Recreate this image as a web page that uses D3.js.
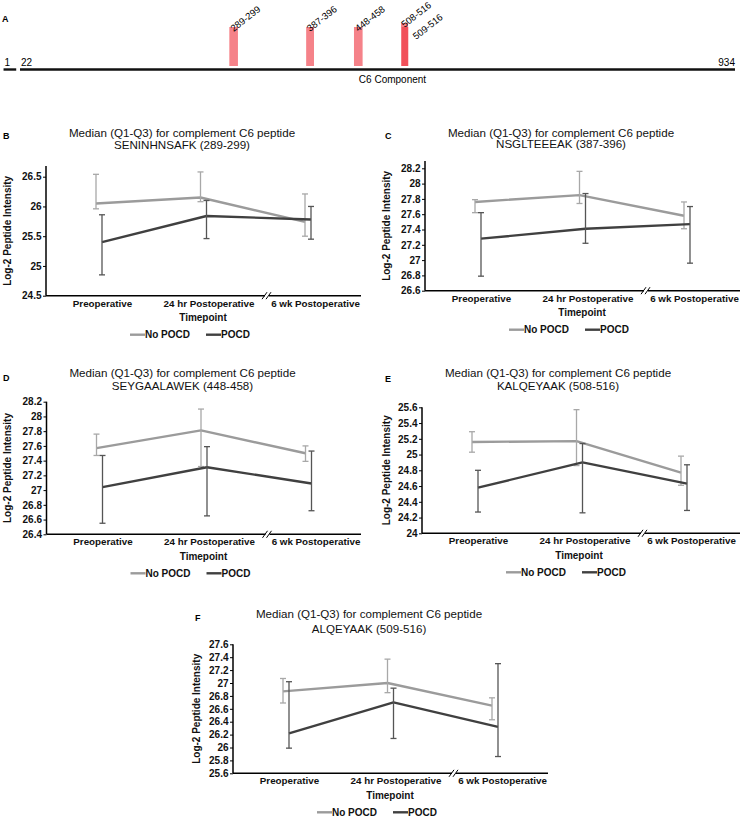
<!DOCTYPE html>
<html><head><meta charset="utf-8">
<script src="https://cdn.jsdelivr.net/npm/d3@7"></script>
<style>
body{margin:0;background:#fff}
svg{display:block;font-family:"Liberation Sans",Arial,sans-serif}
</style>
</head><body>
<svg id="c" width="741" height="820"></svg>
<script>
// ---------- Panel A data ----------
const proteinStart = 1, signalEnd = 21, chainStart = 22, chainEnd = 934;
const peptideRanges = [[289,299],[387,396],[448,458],[508,516],[509,516]];
const peptideLabels = ["289-299","387-396","448-458","508-516","509-516"];
const componentName = "C6 Component";

// ---------- Panels B-F data ----------
const timepoints = ["Preoperative","24 hr Postoperative","6 wk Postoperative"];
const seriesNames = ["No POCD","POCD"];
const titleLine1 = "Median (Q1-Q3) for complement C6 peptide";
const peptideTitles = ["SENINHNSAFK (289-299)","NSGLTEEEAK (387-396)","SEYGAALAWEK (448-458)","KALQEYAAK (508-516)","ALQEYAAK (509-516)"];
// each entry: [median, Q1, Q3] per timepoint
const B_noPOCD = [[26.05,25.96,26.54],[26.15,26.08,26.58],[25.74,25.50,26.21]];
const B_POCD   = [[25.40,24.85,25.86],[25.84,25.46,26.10],[25.78,25.45,26.00]];
const B_ticks  = [24.5,25,25.5,26,26.5];
const C_noPOCD = [[27.76,27.62,27.79],[27.85,27.74,28.16],[27.58,27.41,27.76]];
const C_POCD   = [[27.28,26.79,27.62],[27.41,27.22,27.87],[27.47,26.96,27.70]];
const C_ticks  = [26.6,26.8,27,27.2,27.4,27.6,27.8,28,28.2];
const D_noPOCD = [[27.57,27.47,27.76],[27.81,27.32,28.10],[27.50,27.39,27.60]];
const D_POCD   = [[27.04,26.55,27.47],[27.31,26.65,27.59],[27.09,26.72,27.53]];
const D_ticks  = [26.4,26.6,26.8,27,27.2,27.4,27.6,27.8,28,28.2];
const E_noPOCD = [[25.16,25.03,25.29],[25.17,24.86,25.57],[24.77,24.61,24.98]];
const E_POCD   = [[24.58,24.27,24.80],[24.90,24.26,25.14],[24.63,24.29,24.87]];
const E_ticks  = [24,24.2,24.4,24.6,24.8,25,25.2,25.4,25.6];
const F_noPOCD = [[26.87,26.69,27.07],[27.00,26.85,27.37],[26.65,26.43,26.77]];
const F_POCD   = [[26.22,25.99,27.02],[26.70,26.14,26.92],[26.32,25.86,27.30]];
const F_ticks  = [25.6,25.8,26,26.2,26.4,26.6,26.8,27,27.2,27.4,27.6];

// ---------- styles / layout ----------
const seriesColor = ["#9b9b9b","#404040"];
const errColor = ["#a8a8a8","#555555"];

const svg = d3.select("#c");

// ===== Panel A =====
(function(){
  const g = svg.append("g");
  const x = d3.scaleLinear().domain([chainStart, chainEnd]).range([20, 735]);
  const lineY = 69.5;
  g.append("text").attr("x",2).attr("y",22).attr("font-size",9).attr("font-weight","bold").text("A");
  g.append("line").attr("x1",x(proteinStart)).attr("x2",x(signalEnd)-3).attr("y1",lineY).attr("y2",lineY)
    .attr("stroke","#111").attr("stroke-width",2.4);
  g.append("line").attr("x1",x(chainStart)).attr("x2",x(chainEnd)).attr("y1",lineY).attr("y2",lineY)
    .attr("stroke","#111").attr("stroke-width",2.4);
  g.append("text").attr("x",x(proteinStart)+1).attr("y",66).attr("font-size",10).text(String(proteinStart));
  g.append("text").attr("x",x(chainStart)+1).attr("y",66).attr("font-size",10).text(String(chainStart));
  g.append("text").attr("x",x(chainEnd)).attr("y",66).attr("font-size",10).attr("text-anchor","end").text(String(chainEnd));
  g.append("text").attr("x",(x(chainStart)+x(chainEnd))/2+15).attr("y",83).attr("font-size",10)
    .attr("text-anchor","middle").text(componentName);
  peptideRanges.forEach((r,i)=>{
    const overlap = i>0 && r[0] <= peptideRanges[i-1][1];
    const nextOverlap = i<peptideRanges.length-1 && peptideRanges[i+1][0] <= r[1];
    const top = nextOverlap ? 23 : 27;
    const x0 = x(r[0]), w = Math.max(6.5, x(r[1]+1)-x(r[0]));
    g.append("rect").attr("x",x0).attr("y",top).attr("width",w).attr("height",66-top)
      .attr("fill","#ef2f3a").attr("fill-opacity",0.6);
    const lx = x0 + w/2 + (overlap ? 11 : 0), ly = top + 5 + (overlap ? 8 : 0);
    g.append("text").attr("transform",`translate(${lx},${ly}) rotate(-38)`).attr("font-size",9.5)
      .text(peptideLabels[i]);
  });
})();

// ===== Panels B-F =====
const panels = [
  {id:"B", data:[B_noPOCD,B_POCD], ticks:B_ticks, sub:peptideTitles[0], x0:46, x1:361, yB:295.7, yT:176.7, axTop:166, tY:137, tGap:12, lx:3, ly:139, yl:10.5},
  {id:"C", data:[C_noPOCD,C_POCD], ticks:C_ticks, sub:peptideTitles[1], x0:425, x1:740, yB:290.7, yT:168.3, axTop:161, tY:136.7, tGap:11.5, lx:385, ly:139, yl:389.5},
  {id:"D", data:[D_noPOCD,D_POCD], ticks:D_ticks, sub:peptideTitles[2], x0:46.5, x1:361, yB:534.3, yT:401.7, axTop:401.7, tY:377.3, tGap:12.7, lx:3, ly:381, yl:10.5},
  {id:"E", data:[E_noPOCD,E_POCD], ticks:E_ticks, sub:peptideTitles[3], x0:422, x1:740, yB:533.3, yT:407.3, axTop:407.3, tY:376.7, tGap:13.3, lx:385, ly:382, yl:389.5},
  {id:"F", data:[F_noPOCD,F_POCD], ticks:F_ticks, sub:peptideTitles[4], x0:233, x1:548, yB:773.3, yT:644.3, axTop:644.3, tY:618, tGap:15, lx:195, ly:620.5, yl:199.5}
];

panels.forEach(p=>{
  const g = svg.append("g");
  const y = d3.scaleLinear().domain([p.ticks[0], p.ticks[p.ticks.length-1]]).range([p.yB, p.yT]);
  const xPt = d3.scalePoint().domain(timepoints).range([p.x0+50, p.x0+259]);
  const xLab = d3.scalePoint().domain(timepoints).range([p.x0+56, p.x0+269]);
  const off = [0, 6];

  // panel letter
  g.append("text").attr("x",p.lx).attr("y",p.ly).attr("font-size",9).attr("font-weight","bold").text(p.id);
  // title
  const cx = p.x0 + 136;
  g.append("text").attr("x",cx).attr("y",p.tY).attr("text-anchor","middle").attr("font-size",11.6).attr("fill","#111").text(titleLine1);
  g.append("text").attr("x",cx).attr("y",p.tY+p.tGap).attr("text-anchor","middle").attr("font-size",11.6).attr("fill","#111").text(p.sub);

  // y axis
  const ya = g.append("g").attr("transform",`translate(${p.x0},0)`)
    .call(d3.axisLeft(y).tickValues(p.ticks).tickSize(3).tickPadding(1.5).tickFormat(d=>String(d)));
  ya.select(".domain").remove();
  ya.selectAll(".tick line").attr("stroke","#000").attr("stroke-width",1);
  ya.selectAll("text").attr("font-size",10).attr("font-weight","bold").attr("fill","#111").attr("font-family",null);
  g.append("line").attr("x1",p.x0).attr("x2",p.x0).attr("y1",p.axTop).attr("y2",p.yB)
    .attr("stroke","#000").attr("stroke-width",1.5);
  // y title
  g.append("text").attr("transform",`translate(${p.yl},${(p.axTop+p.yB)/2}) rotate(-90)`)
    .attr("text-anchor","middle").attr("font-size",10).attr("font-weight","bold").attr("fill","#111")
    .text("Log-2 Peptide Intensity");

  // x axis with break
  const bx = p.x0 + 221;
  g.append("line").attr("x1",p.x0).attr("x2",bx-2).attr("y1",p.yB).attr("y2",p.yB).attr("stroke","#000").attr("stroke-width",1.5);
  g.append("line").attr("x1",bx+2).attr("x2",p.x1).attr("y1",p.yB).attr("y2",p.yB).attr("stroke","#000").attr("stroke-width",1.5);
  [-2.5, 1.5].forEach(d=>{
    g.append("line").attr("x1",bx+d-2.5).attr("y1",p.yB+3.5).attr("x2",bx+d+2.5).attr("y2",p.yB-3.5)
      .attr("stroke","#000").attr("stroke-width",1);
  });
  const xa = g.append("g").attr("transform",`translate(0,${p.yB})`)
    .call(d3.axisBottom(xLab).tickSize(0).tickPadding(4));
  xa.select(".domain").remove();
  xa.selectAll("text").attr("font-size",9.8).attr("font-weight","bold").attr("fill","#111").attr("font-family",null);

  // x title
  g.append("text").attr("x",p.x0+157).attr("y",p.yB+25.5).attr("text-anchor","middle")
    .attr("font-size",10).attr("font-weight","bold").attr("fill","#111").text("Timepoint");
  // legend
  const legX = [p.x0+84, p.x0+160];
  seriesNames.forEach((s,si)=>{
    const ly = p.yB + 39;
    g.append("line").attr("x1",legX[si]).attr("x2",legX[si]+15).attr("y1",ly).attr("y2",ly)
      .attr("stroke",seriesColor[si]).attr("stroke-width",2.4);
    g.append("text").attr("x",legX[si]+15).attr("y",ly+3.6).attr("font-size",10).attr("font-weight","bold")
      .attr("fill","#111").text(s);
  });

  // series
  const line = d3.line().x(d=>d[0]).y(d=>d[1]);
  p.data.forEach((ser,si)=>{
    const pts = ser.map((d,i)=>[xPt(timepoints[i])+off[si], y(d[0])]);
    g.append("path").attr("d",line(pts)).attr("fill","none").attr("stroke",seriesColor[si])
      .attr("stroke-width",2.4).attr("stroke-linejoin","round");
    ser.forEach((d,i)=>{
      const xx = xPt(timepoints[i])+off[si];
      const eg = g.append("g").attr("stroke",errColor[si]).attr("stroke-width",1.3);
      eg.append("line").attr("x1",xx).attr("x2",xx).attr("y1",y(d[1])).attr("y2",y(d[2]));
      eg.append("line").attr("x1",xx-3).attr("x2",xx+3).attr("y1",y(d[1])).attr("y2",y(d[1]));
      eg.append("line").attr("x1",xx-3).attr("x2",xx+3).attr("y1",y(d[2])).attr("y2",y(d[2]));
    });
  });
});
</script>
</body></html>
